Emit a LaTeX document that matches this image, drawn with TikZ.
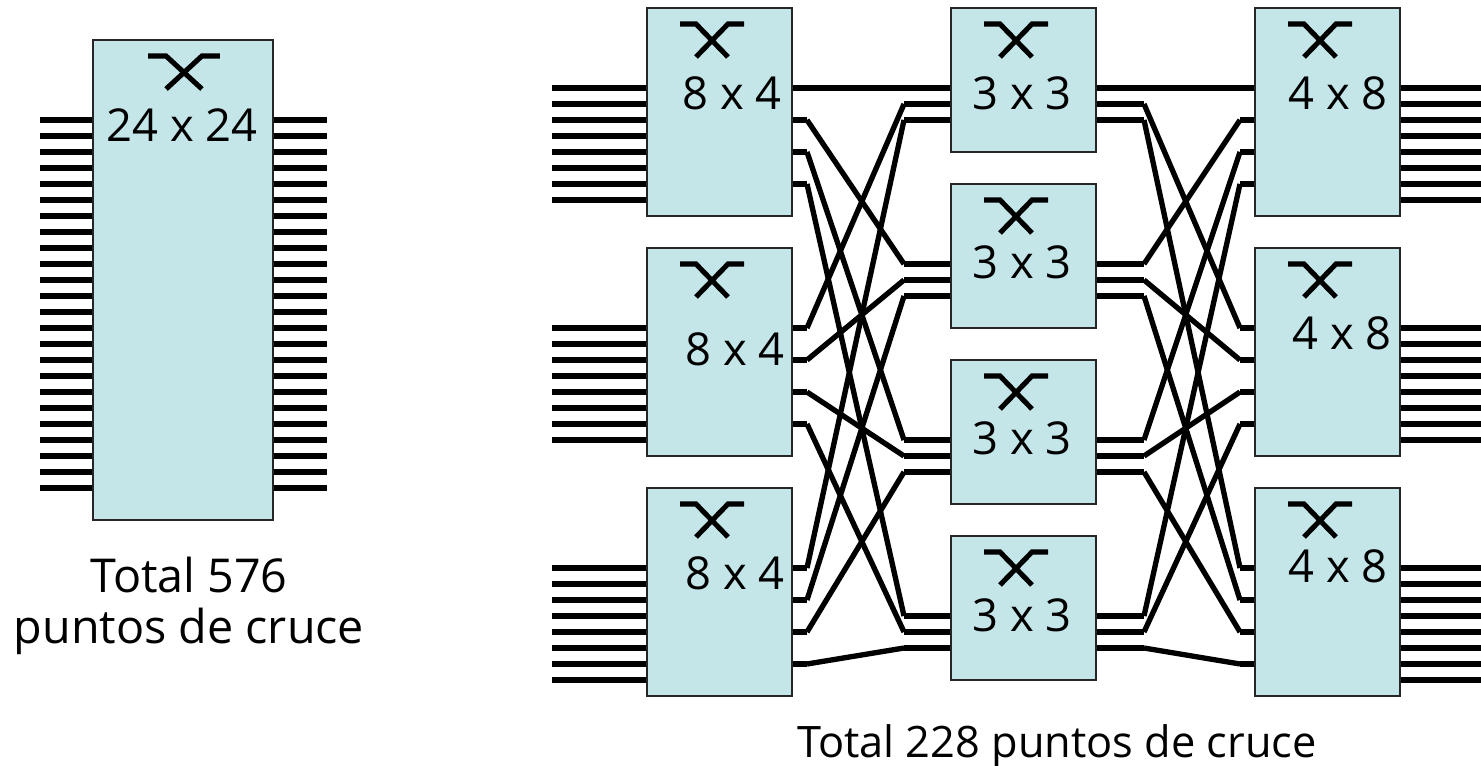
\documentclass[tikz,border=0pt]{standalone}
\usepackage{fontspec}
\setmainfont{Open Sans}
\usetikzlibrary{positioning}
\definecolor{boxblue}{HTML}{C4E6E8}
\tikzset{
  wire/.style={line width=4pt},
  swbox/.style={draw=black!85, line width=1.1pt, fill=boxblue, inner sep=0pt},
  smallbox/.style={swbox, minimum width=108.75pt},
  tallbox/.style={smallbox, minimum height=156pt},
  midbox/.style={smallbox, minimum height=108pt},
  bigbox/.style={swbox, minimum width=135pt, minimum height=360pt},
  dimlabel/.style={font=\fontsize{34}{34}\selectfont, inner sep=0pt},
  caption/.style={font=\fontsize{35}{38}\selectfont, align=center, inner sep=0pt},
  xmark/.pic={
    \draw[line width=3.8pt] (-32,0) -- (-16,0) -- (16,-33);
    \draw[line width=3.8pt] (32,0) -- (16,0) -- (-16,-33);
  }
}
\begin{document}
\begin{tikzpicture}[x=0.75pt,y=0.75pt,yscale=-1]
\useasboundingbox (0,0) rectangle (1481,766);

%Single stage
\foreach \k in {0,...,23}{
  \coordinate (bl\k) at (40,120+16*\k);
  \coordinate (br\k) at (327,120+16*\k);
  \draw[wire] (bl\k) -- (93,120+16*\k);
  \draw[wire] (273,120+16*\k) -- (br\k);
}
\node[bigbox] (big) at (183,280) {};
\pic at (184,56) [xscale=1.12] {xmark};
\node[dimlabel] (biglabel) at (182,125) {24 x 24};
\node[caption] (bigtotal) at (189,606) {Total 576\\puntos de cruce};

%Outer lines of the first and last stages
\foreach \n/\y in {1/88,2/328,3/568}{
  \foreach \k in {0,...,7}{
    \draw[wire] (552,\y+16*\k) -- (647,\y+16*\k);
    \draw[wire] (1400,\y+16*\k) -- (1481,\y+16*\k);
  }
  \foreach \k in {1,...,4}{
    \coordinate (ao\n\k) at (807,\y+32*\k-32);
    \coordinate (ci\n\k) at (1240,\y+32*\k-32);
    \draw[wire] (792,\y+32*\k-32) -- (ao\n\k);
    \draw[wire] (ci\n\k) -- (1255,\y+32*\k-32);
  }
}

%Stubs of the middle stage
\foreach \m/\y in {1/88,2/264,3/440,4/616}{
  \foreach \k in {1,...,3}{
    \coordinate (bi\m\k) at (904,\y+16*\k-16);
    \coordinate (bo\m\k) at (1144,\y+16*\k-16);
    \draw[wire] (bi\m\k) -- (951,\y+16*\k-16);
    \draw[wire] (1096,\y+16*\k-16) -- (bo\m\k);
  }
}

%Links between the stages
\foreach \n in {1,2,3}{
  \foreach \m in {1,2,3,4}{
    \draw[wire] (ao\n\m) -- (bi\m\n);
    \draw[wire] (bo\m\n) -- (ci\n\m);
  }
}

%First stage
\node[tallbox] (in1) at (719.5,112) {};
\node[tallbox] (in2) at (719.5,352) {};
\node[tallbox] (in3) at (719.5,592) {};
%Middle stage
\node[midbox] (mid1) at (1023.5,80) {};
\node[midbox] (mid2) at (1023.5,256) {};
\node[midbox] (mid3) at (1023.5,432) {};
\node[midbox] (mid4) at (1023.5,608) {};
%Last stage
\node[tallbox] (out1) at (1327.5,112) {};
\node[tallbox] (out2) at (1327.5,352) {};
\node[tallbox] (out3) at (1327.5,592) {};

\foreach \x/\y in {712/24,712/264,712/504,1016/24,1016/200,1016/376,1016/552,1320/24,1320/264,1320/504}
  \pic at (\x,\y) {xmark};

\node[dimlabel] (in1label) at (732,93) {8 x 4};
\node[dimlabel] (in2label) at (735,349) {8 x 4};
\node[dimlabel] (in3label) at (735,573) {8 x 4};
\node[dimlabel] (mid1label) at (1022,93) {3 x 3};
\node[dimlabel] (mid2label) at (1022,262) {3 x 3};
\node[dimlabel] (mid3label) at (1022,438) {3 x 3};
\node[dimlabel] (mid4label) at (1022,615) {3 x 3};
\node[dimlabel] (out1label) at (1338,93) {4 x 8};
\node[dimlabel] (out2label) at (1342,333) {4 x 8};
\node[dimlabel] (out3label) at (1338,566) {4 x 8};

\node[caption, font=\fontsize{32.5}{38}\selectfont, anchor=base] (total) at (1057,757) {Total 228 puntos de cruce};

\end{tikzpicture}
\end{document}
